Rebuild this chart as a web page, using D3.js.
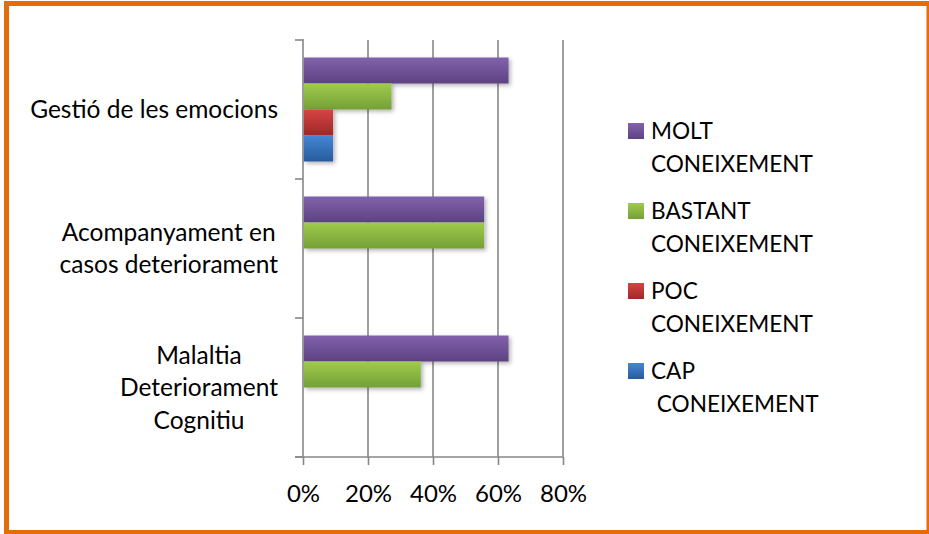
<!DOCTYPE html>
<html>
<head>
<meta charset="utf-8">
<script src="https://cdn.jsdelivr.net/npm/d3@7"></script>
<style>
  html, body { margin: 0; padding: 0; background: #fff; }
  svg { display: block; }
  text { font-family: Lato, "Open Sans", sans-serif; fill: #000; }
</style>
</head>
<body>
<svg id="chart" width="929" height="534"></svg>
<script>
// ---- data ----
const categories = [
  ["Gestió de les emocions"],
  ["Acompanyament en", "casos deteriorament"],
  ["Malaltia", "Deteriorament", "Cognitiu"]
];
const categoryKeys = ["Gestió", "Acompanyament", "Malaltia"];
const seriesNames = ["MOLT CONEIXEMENT", "BASTANT CONEIXEMENT", "POC CONEIXEMENT", "CAP CONEIXEMENT"];
const legendLines = [["MOLT", "CONEIXEMENT"], ["BASTANT", "CONEIXEMENT"], ["POC", "CONEIXEMENT"], ["CAP", " CONEIXEMENT"]];
const molt    = [0.63, 0.555, 0.63];
const bastant = [0.27, 0.555, 0.36];
const poc     = [0.09, 0, 0];
const cap     = [0.09, 0, 0];
const tickValues = [0, 0.2, 0.4, 0.6, 0.8];
const tickLabels = ["0%", "20%", "40%", "60%", "80%"];

const seriesValues = [molt, bastant, poc, cap];
const colors = [
  ["#8262ac", "#5d4282"],
  ["#a0cb4c", "#74a038"],
  ["#d64444", "#9f2828"],
  ["#4487d6", "#285b9c"]
];

const svg = d3.select("#chart");
const defs = svg.append("defs");
colors.forEach((c, i) => {
  const g = defs.append("linearGradient").attr("id", "grad" + i)
    .attr("x1", 0).attr("y1", 0).attr("x2", 0).attr("y2", 1);
  g.append("stop").attr("offset", "0%").attr("stop-color", c[0]);
  g.append("stop").attr("offset", "100%").attr("stop-color", c[1]);
});
const f = defs.append("filter").attr("id", "shadow").attr("x", "-10%").attr("y", "-30%").attr("width", "130%").attr("height", "180%");
f.append("feDropShadow").attr("dx", 2).attr("dy", 2).attr("stdDeviation", 2)
  .attr("flood-color", "#000").attr("flood-opacity", 0.3);

// border
svg.append("rect").attr("x", 6.5).attr("y", 3.5).attr("width", 922.5).attr("height", 529)
  .attr("fill", "#fff").attr("stroke", "#e46c0a").attr("stroke-width", 5);

const x = d3.scaleLinear().domain([0, 0.8]).range([303, 563]);
const y = d3.scaleBand().domain(categoryKeys).range([40, 457]).paddingInner(0).paddingOuter(0);
const ySub = d3.scaleBand().domain(seriesNames).range([0, y.bandwidth()]).paddingInner(0).paddingOuter(0.673);

const gridColor = "#878787";
// gridlines
svg.append("g").selectAll("line").data(tickValues.slice(1)).join("line")
  .attr("x1", d => x(d)).attr("x2", d => x(d))
  .attr("y1", 40).attr("y2", 457)
  .attr("stroke", gridColor).attr("stroke-width", 1.6);

// x axis
const xAxis = svg.append("g").attr("transform", "translate(0,457)")
  .call(d3.axisBottom(x).tickValues(tickValues).tickFormat((d, i) => tickLabels[i]).tickSize(8).tickPadding(20));
xAxis.select(".domain").attr("stroke", gridColor).attr("stroke-width", 1.6).attr("d", "M295,0H563");
xAxis.selectAll(".tick line").attr("stroke", gridColor).attr("stroke-width", 1.6);
xAxis.selectAll(".tick text").attr("font-size", 24).attr("font-family", "Lato").attr("fill", "#000");

// y axis line + ticks at category boundaries
const boundaries = categoryKeys.map(k => y(k)).concat([y.range()[1]]);
svg.append("line").attr("x1", 303).attr("x2", 303).attr("y1", 39).attr("y2", 457)
  .attr("stroke", gridColor).attr("stroke-width", 1.6);
svg.append("g").selectAll("line").data(boundaries).join("line")
  .attr("x1", 295).attr("x2", 303).attr("y1", d => d).attr("y2", d => d)
  .attr("stroke", gridColor).attr("stroke-width", 1.6);

// bars
seriesNames.forEach((s, si) => {
  svg.append("g").selectAll("rect")
    .data(seriesValues[si].map((v, ci) => ({ v, c: categoryKeys[ci] })).filter(d => d.v > 0))
    .join("rect")
    .attr("x", x(0) + 0.8)
    .attr("y", d => y(d.c) + ySub(s))
    .attr("width", d => x(d.v) - x(0))
    .attr("height", ySub.bandwidth())
    .attr("fill", "url(#grad" + si + ")")
    .attr("filter", "url(#shadow)");
});

// category labels
const fs = 24.5, lh = 32.5, rightEdge = 278;
categories.forEach((lines, ci) => {
  const g = svg.append("g");
  const texts = lines.map(l => g.append("text").attr("font-size", fs).text(l));
  const widths = texts.map(t => t.node().getComputedTextLength());
  const maxW = d3.max(widths);
  const cx = rightEdge - maxW / 2;
  const cy = y(categoryKeys[ci]) + y.bandwidth() / 2;
  const firstBase = cy - (lines.length - 1) * lh / 2 + fs * 0.35;
  texts.forEach((t, li) => t.attr("x", cx).attr("text-anchor", "middle").attr("y", firstBase + li * lh));
});

// legend
const lfs = 22.6;
const lg = svg.append("g");
legendLines.forEach((lines, i) => {
  const base = 139 + i * 80;
  lg.append("rect").attr("x", 628).attr("y", base - 16).attr("width", 16).attr("height", 16)
    .attr("fill", "url(#grad" + i + ")");
  lines.forEach((l, li) => {
    lg.append("text").attr("x", 651).attr("y", base + li * 32.7).attr("font-size", lfs)
      .style("white-space", "pre").text(l);
  });
});
</script>
</body>
</html>
